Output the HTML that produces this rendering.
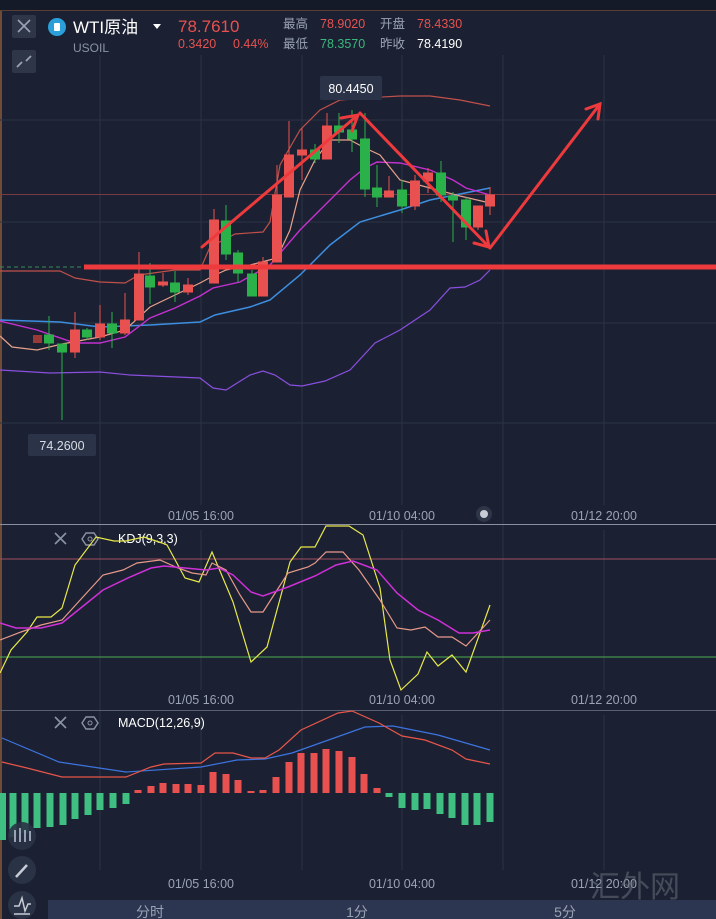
<!DOCTYPE html>
<html><head><meta charset="utf-8"><style>
html,body{margin:0;padding:0;background:#1b2132;}
svg{display:block}
text{font-family:"Liberation Sans","Noto Sans CJK SC",sans-serif;}
</style></head><body>
<svg width="716" height="919" viewBox="0 0 716 919" xmlns="http://www.w3.org/2000/svg">
<rect width="716" height="919" fill="#1b2132"/>
<rect width="716" height="10" fill="#141a28"/>
<line x1="1" y1="10" x2="1" y2="919" stroke="#8a5a3a" stroke-width="1.5"/>
<line x1="0" y1="10.5" x2="716" y2="10.5" stroke="#5a3e34" stroke-width="1"/>
<!-- grid -->
<g stroke="#2b3346" stroke-width="1">
<line x1="100" y1="55" x2="100" y2="870"/><line x1="201" y1="55" x2="201" y2="505"/><line x1="302" y1="55" x2="302" y2="870"/>
<line x1="402" y1="55" x2="402" y2="505"/><line x1="503" y1="55" x2="503" y2="870"/><line x1="604" y1="55" x2="604" y2="505"/>
<line x1="201" y1="530" x2="201" y2="690"/><line x1="402" y1="530" x2="402" y2="690"/><line x1="604" y1="530" x2="604" y2="690"/>
<line x1="201" y1="715" x2="201" y2="870"/><line x1="402" y1="715" x2="402" y2="870"/><line x1="604" y1="715" x2="604" y2="870"/>
<line x1="0" y1="120" x2="716" y2="120"/><line x1="0" y1="222" x2="716" y2="222"/><line x1="0" y1="323" x2="716" y2="323"/><line x1="0" y1="423" x2="716" y2="423"/>
</g>
<line x1="0" y1="194.5" x2="716" y2="194.5" stroke="#7a3a44" stroke-width="1"/>
<!-- header -->
<rect x="12" y="15" width="24" height="23" rx="2" fill="#2e3648"/>
<path d="M18 20 L30 32 M30 20 L18 32" stroke="#9aa3b5" stroke-width="1.6"/>
<rect x="12" y="50" width="24" height="23" rx="2" fill="#2e3648"/>
<path d="M17 67 L22 62 M31 56 L26 61" stroke="#9aa3b5" stroke-width="1.8"/>
<circle cx="57" cy="27" r="9" fill="#2ba0d8"/><rect x="54" y="23" width="6" height="8" rx="1" fill="#fff"/>
<text x="73" y="33" font-size="17" fill="#ffffff">WTI原油</text>
<path d="M153 24 L161 24 L157 29 Z" fill="#fff"/>
<text x="73" y="52" font-size="12" fill="#8a93a5">USOIL</text>
<text x="178" y="32" font-size="17" fill="#e8514f">78.7610</text>
<text x="178" y="48" font-size="12.5" fill="#e8514f">0.3420</text>
<text x="233" y="48" font-size="12.5" fill="#e8514f">0.44%</text>
<g font-size="12.5">
<text x="283" y="28" fill="#9aa3b5">最高</text><text x="320" y="28" fill="#e8514f">78.9020</text>
<text x="380" y="28" fill="#9aa3b5">开盘</text><text x="417" y="28" fill="#e8514f">78.4330</text>
<text x="283" y="48" fill="#9aa3b5">最低</text><text x="320" y="48" fill="#3bb77e">78.3570</text>
<text x="380" y="48" fill="#9aa3b5">昨收</text><text x="417" y="48" fill="#ffffff">78.4190</text>
</g>
<!-- bands -->
<g fill="none" stroke-width="1.2">
<polyline stroke="#c0504a" points="0,271 60,271 75,278 100,282 125,283 139,275 175,270 200,270 210,247 235,234 263,232 270,222 280,165 300,130 320,110 340,100 365,98 400,96 430,96 460,100 490,106"/>
<polyline stroke="#3d8ee0" stroke-width="1.5" points="0,320 60,322 100,327 150,325 200,322 215,315 250,307 270,300 300,275 330,245 360,222 400,210 430,200 460,194 490,188"/>
<polyline stroke="#8a4fe0" points="0,370 50,373 100,372 130,375 200,378 213,388 226,390 250,375 263,371 275,375 290,385 302,386 325,381 350,370 375,343 400,330 430,310 450,288 465,287 480,280 490,270"/>
<polyline stroke="#c531d0" stroke-width="1.4" points="0,321 37,330 75,343 100,343 125,337 150,318 175,308 200,296 213,288 240,282 270,265 300,230 325,205 350,180 365,168 377,162 400,163 430,170 453,180 466,188 490,195"/>
<polyline stroke="#e8a08a" points="0,336 12,347 37,350 62,344 100,337 125,330 150,307 175,295 200,283 213,276 226,270 250,265 277,258 290,230 300,190 315,160 330,140 350,140 365,148 380,155 400,180 430,188 460,196 490,203"/>
</g>
<!-- candles -->
<g stroke-width="1">
<g stroke="#e8514f" fill="#e8514f">
<line x1="75" y1="312" x2="75" y2="358"/><rect x="70.5" y="330" width="9" height="22"/>
<line x1="100" y1="305" x2="100" y2="340"/><rect x="95.5" y="324" width="9" height="13"/>
<line x1="125" y1="293" x2="125" y2="335"/><rect x="120.5" y="320" width="9" height="13"/>
<line x1="139" y1="252" x2="139" y2="320"/><rect x="134.5" y="274" width="9" height="46"/>
<line x1="163" y1="273" x2="163" y2="287"/><rect x="158.5" y="282" width="9" height="3"/>
<line x1="188" y1="278" x2="188" y2="295"/><rect x="183.5" y="285" width="9" height="7"/>
<line x1="214" y1="209" x2="214" y2="283"/><rect x="209.5" y="220" width="9" height="63"/>
<line x1="263" y1="257" x2="263" y2="296"/><rect x="258.5" y="262" width="9" height="34"/>
<line x1="277" y1="165" x2="277" y2="262"/><rect x="272.5" y="195" width="9" height="67"/>
<line x1="289" y1="121" x2="289" y2="197"/><rect x="284.5" y="155" width="9" height="42"/>
<line x1="302" y1="128" x2="302" y2="180"/><rect x="297.5" y="150" width="9" height="5"/>
<line x1="327" y1="113" x2="327" y2="159"/><rect x="322.5" y="126" width="9" height="33"/>
<line x1="389" y1="176" x2="389" y2="197"/><rect x="384.5" y="191" width="9" height="6"/>
<line x1="415" y1="175" x2="415" y2="210"/><rect x="410.5" y="181" width="9" height="25"/>
<line x1="428" y1="168" x2="428" y2="193"/><rect x="423.5" y="173" width="9" height="8"/>
<line x1="478" y1="206" x2="478" y2="230"/><rect x="473.5" y="206" width="9" height="21"/>
<line x1="490" y1="187" x2="490" y2="215"/><rect x="485.5" y="195" width="9" height="11"/>
</g>
<rect x="33" y="335" width="9" height="8" fill="#9a3a38"/>
<g stroke="#2ab14a" fill="#2ab14a">
<line x1="49" y1="316" x2="49" y2="350"/><rect x="44.5" y="335" width="9" height="8"/>
<line x1="62" y1="344" x2="62" y2="420"/><rect x="57.5" y="344" width="9" height="8"/>
<line x1="87" y1="328" x2="87" y2="340"/><rect x="82.5" y="330" width="9" height="7"/>
<line x1="112" y1="312" x2="112" y2="348"/><rect x="107.5" y="324" width="9" height="9"/>
<line x1="150" y1="263" x2="150" y2="304"/><rect x="145.5" y="276" width="9" height="11"/>
<line x1="175" y1="271" x2="175" y2="302"/><rect x="170.5" y="283" width="9" height="9"/>
<line x1="226" y1="205" x2="226" y2="260"/><rect x="221.5" y="221" width="9" height="33"/>
<line x1="238" y1="250" x2="238" y2="282"/><rect x="233.5" y="253" width="9" height="20"/>
<line x1="252" y1="270" x2="252" y2="296"/><rect x="247.5" y="274" width="9" height="22"/>
<line x1="315" y1="144" x2="315" y2="163"/><rect x="310.5" y="150" width="9" height="9"/>
<line x1="339" y1="113" x2="339" y2="143"/><rect x="334.5" y="126" width="9" height="6"/>
<line x1="352" y1="110" x2="352" y2="152"/><rect x="347.5" y="130" width="9" height="9"/>
<line x1="365" y1="113" x2="365" y2="197"/><rect x="360.5" y="139" width="9" height="50"/>
<line x1="377" y1="165" x2="377" y2="207"/><rect x="372.5" y="188" width="9" height="9"/>
<line x1="402" y1="180" x2="402" y2="213"/><rect x="397.5" y="190" width="9" height="16"/>
<line x1="441" y1="161" x2="441" y2="202"/><rect x="436.5" y="173" width="9" height="22"/>
<line x1="453" y1="192" x2="453" y2="242"/><rect x="448.5" y="196" width="9" height="4"/>
<line x1="466" y1="197" x2="466" y2="240"/><rect x="461.5" y="200" width="9" height="27"/>
</g>
</g>
<!-- support line & arrows -->
<line x1="0" y1="267" x2="84" y2="267" stroke="#3a8a5a" stroke-dasharray="4,3" stroke-width="1"/>
<rect x="84" y="264.5" width="632" height="5" fill="#ee3a3c"/>
<g stroke="#ee3a3c" stroke-width="3" fill="none" stroke-linecap="round">
<line x1="202" y1="247" x2="358" y2="115"/>
<polyline points="341,118 358,115 352,131"/>
<line x1="360" y1="113" x2="489" y2="247"/>
<polyline points="474,243 489,247 486,231"/>
<line x1="490" y1="248" x2="600" y2="104"/>
<polyline points="586,109 600,104 598,119"/>
</g>
<rect x="320" y="76" width="62" height="24" rx="2" fill="#2a3347"/>
<text x="351" y="93" font-size="12.5" fill="#ffffff" text-anchor="middle">80.4450</text>
<rect x="28" y="434" width="68" height="22" rx="2" fill="#2a3347"/>
<text x="62" y="450" font-size="12.5" fill="#d8dce5" text-anchor="middle">74.2600</text>
<g font-size="12.5" fill="#9aa3b5" text-anchor="middle">
<text x="201" y="520">01/05 16:00</text><text x="402" y="520">01/10 04:00</text><text x="604" y="520">01/12 20:00</text>
<text x="201" y="704">01/05 16:00</text><text x="402" y="704">01/10 04:00</text><text x="604" y="704">01/12 20:00</text>
<text x="201" y="888">01/05 16:00</text><text x="402" y="888">01/10 04:00</text><text x="604" y="888">01/12 20:00</text>
</g>
<circle cx="484" cy="514" r="8" fill="#2e3648"/><circle cx="484" cy="514" r="4" fill="#c8ccd5"/>
<!-- KDJ -->
<line x1="0" y1="524.5" x2="716" y2="524.5" stroke="#8a90a0" stroke-width="1"/>
<line x1="0" y1="559" x2="716" y2="559" stroke="#a0505e" stroke-width="1"/>
<line x1="0" y1="657" x2="716" y2="657" stroke="#4caa4c" stroke-width="1"/>
<path d="M55 533 L66 544 M66 533 L55 544" stroke="#8a93a5" stroke-width="1.6"/>
<polygon points="86,533 94,533 98,539 94,545 86,545 82,539" fill="none" stroke="#8a93a5" stroke-width="1.4"/><circle cx="90" cy="539" r="2" fill="none" stroke="#8a93a5"/>
<text x="118" y="543" font-size="12.5" fill="#ffffff">KDJ(9,3,3)</text>
<g fill="none" stroke-width="1.2">
<polyline stroke="#e8e84a" points="0,673 11,650 27,632 37,617 51,617 62,608 75,565 96,537 114,541 126,541 144,537 162,543 167,545 185,578 199,582 212,552 233,602 251,662 267,647 290,562 301,547 315,547 326,526 349,526 363,535 380,588 390,660 401,690 418,674 427,652 438,666 452,655 466,672 490,605"/>
<polyline stroke="#e89a8a" points="0,640 21,632 41,625 62,620 82,598 103,575 123,570 137,563 160,560 178,568 192,573 206,575 212,563 226,570 240,595 251,612 263,612 288,573 308,567 315,563 326,552 343,552 359,570 380,600 397,628 411,630 425,627 438,637 452,637 466,646 490,620"/>
<polyline stroke="#d030d8" stroke-width="1.5" points="0,623 16,628 41,628 62,623 82,607 103,590 130,577 151,568 164,566 185,568 206,570 219,568 233,575 251,592 263,596 288,587 315,576 336,565 353,561 377,570 397,593 418,610 438,620 459,633 473,633 490,630"/>
</g>
<!-- MACD -->
<line x1="0" y1="710.5" x2="716" y2="710.5" stroke="#5a6070" stroke-width="1"/>
<path d="M55 717 L66 728 M66 717 L55 728" stroke="#8a93a5" stroke-width="1.6"/>
<polygon points="86,717 94,717 98,723 94,729 86,729 82,723" fill="none" stroke="#8a93a5" stroke-width="1.4"/><circle cx="90" cy="723" r="2" fill="none" stroke="#8a93a5"/>
<text x="118" y="727" font-size="12.5" fill="#ffffff">MACD(12,26,9)</text>
<g fill="#3fbf82">
<rect x="-1" y="793" width="7" height="47"/><rect x="9.5" y="793" width="7" height="44"/><rect x="21.5" y="793" width="7" height="40"/>
<rect x="33.5" y="793" width="7" height="35"/><rect x="46.5" y="793" width="7" height="34"/><rect x="59.5" y="793" width="7" height="32"/>
<rect x="71.5" y="793" width="7" height="26"/><rect x="84.5" y="793" width="7" height="22"/><rect x="96.5" y="793" width="7" height="17"/>
<rect x="109.5" y="793" width="7" height="15"/><rect x="122.5" y="793" width="7" height="11"/>
<rect x="385.5" y="793" width="7" height="4"/><rect x="398.5" y="793" width="7" height="15"/><rect x="411.5" y="793" width="7" height="17"/>
<rect x="423.5" y="793" width="7" height="16"/><rect x="436.5" y="793" width="7" height="21"/><rect x="448.5" y="793" width="7" height="25"/>
<rect x="461.5" y="793" width="7" height="32"/><rect x="473.5" y="793" width="7" height="32"/><rect x="486.5" y="793" width="7" height="29"/>
</g>
<g fill="#e8514f">
<rect x="134.5" y="790" width="7" height="3"/><rect x="147.5" y="786" width="7" height="7"/><rect x="159.5" y="783" width="7" height="10"/>
<rect x="172.5" y="784" width="7" height="9"/><rect x="184.5" y="784" width="7" height="9"/><rect x="197.5" y="785" width="7" height="8"/>
<rect x="209.5" y="772" width="7" height="21"/><rect x="222.5" y="774" width="7" height="19"/><rect x="234.5" y="780" width="7" height="13"/>
<rect x="247.5" y="791" width="7" height="2"/><rect x="259.5" y="790" width="7" height="3"/><rect x="272.5" y="777" width="7" height="16"/>
<rect x="285.5" y="762" width="7" height="31"/><rect x="297.5" y="753" width="7" height="40"/><rect x="310.5" y="753" width="7" height="40"/>
<rect x="322.5" y="749" width="7" height="44"/><rect x="335.5" y="751" width="7" height="42"/><rect x="348.5" y="757" width="7" height="36"/>
<rect x="360.5" y="774" width="7" height="19"/><rect x="373.5" y="788" width="7" height="5"/>
</g>
<g fill="none" stroke-width="1.2">
<polyline stroke="#3d74e0" points="2,738 59,762 126,772 201,767 237,760 265,759 292,753 365,727 393,726 438,735 490,750"/>
<polyline stroke="#e8564a" points="2,762 27,768 62,777 105,777 126,777 151,767 164,764 201,763 215,753 233,753 251,758 265,758 279,750 301,730 338,713 352,711 379,723 402,736 425,740 452,750 466,759 490,764"/>
</g>
<!-- left tool icons -->
<circle cx="22" cy="836" r="14" fill="#2a3245" opacity="0.9"/>
<path d="M15 830 v12 M20 828 v14 M25 830 v12 M30 831 v10" stroke="#9aa3b5" stroke-width="2"/>
<circle cx="22" cy="870" r="14" fill="#2a3245"/>
<path d="M16 877 L27 865" stroke="#c8ccd5" stroke-width="2.5"/>
<circle cx="22" cy="905" r="14" fill="#2a3245"/>
<path d="M14 906 L19 906 L22 898 L25 911 L28 904 L31 904 M14 914 L30 914" stroke="#c8ccd5" stroke-width="1.5" fill="none"/>
<!-- bottom bar -->
<rect x="48" y="900" width="668" height="19" fill="#2c3650"/>
<g font-size="14" fill="#9aa3b5" text-anchor="middle">
<text x="150" y="917">分时</text><text x="357" y="917">1分</text><text x="565" y="917">5分</text>
</g>
<text x="590" y="897" font-size="30" fill="#6a6f7a" opacity="0.55" font-family="Liberation Serif,Noto Serif CJK SC,serif">汇外网</text>
</svg>
</body></html>
